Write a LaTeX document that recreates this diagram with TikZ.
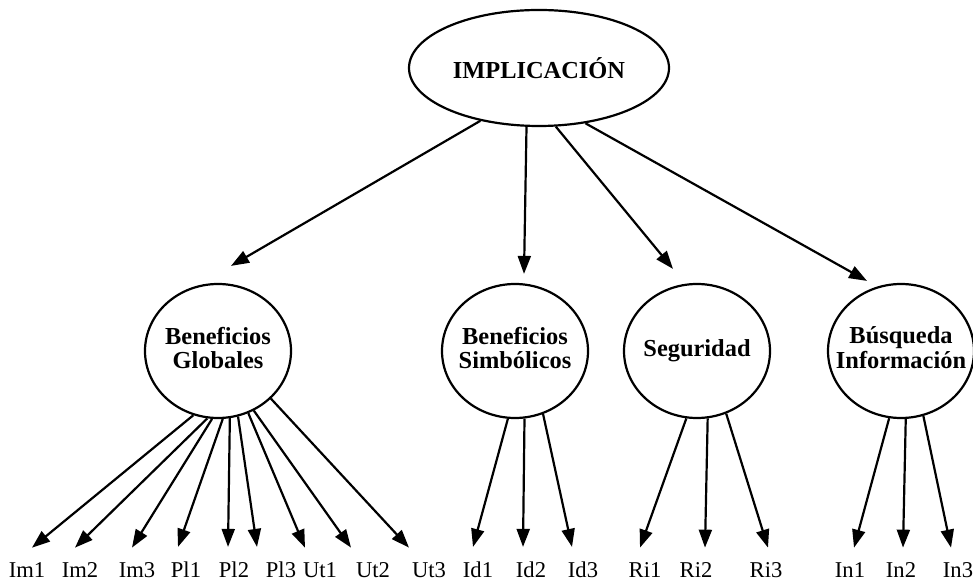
\documentclass[tikz,border=0pt]{standalone}
\usepackage{fontspec}
\setmainfont{Liberation Serif}
\usetikzlibrary{shapes.geometric, arrows.meta}

\newcommand{\facname}[1]{\makebox[0pt]{\begin{tabular}{@{}c@{}}#1\end{tabular}}}

\begin{document}
\begin{tikzpicture}
        [x=0.5pt, y=-0.5pt,
        factor/.style={draw, ellipse, line width=1.1pt, inner sep=0pt,
          minimum width=73pt, minimum height=67pt,
          font=\bfseries\fontsize{12.2}{11.5}\selectfont},
        root/.style={factor, minimum width=130pt, minimum height=58pt},
        item/.style={anchor=base, inner xsep=0pt, inner ysep=7pt,
          font=\fontsize{11.3}{13}\selectfont},
        arr/.style={-{Triangle[length=9pt,width=6.5pt]}, line width=1.1pt}]

    \useasboundingbox (0,0) rectangle (973,581);

    % factors
    \node[root]   (impl) at (539,68)  {IMPLICACIÓN};
    \node[factor] (bg)   at (218,351) {\facname{Beneficios\\Globales}};
    \node[factor] (bs)   at (515,351) {\facname{Beneficios\\Simbólicos}};
    \node[factor] (seg)  at (697,351) {\facname{Seguridad}};
    \node[factor] (bi)   at (901,351) {\facname{Búsqueda\\Información}};

    \draw[arr] (impl.-138) -- ([shift={(6.5pt,8.5pt)}]bg.north);
    \draw[arr] (impl.-102) -- ([shift={(4.5pt,4.5pt)}]bs.north);
    \draw[arr] (impl.-74)  -- ([shift={(-12pt,7pt)}]seg.north);
    \draw[arr] (impl.-50)  -- ([shift={(-17pt,1pt)}]bi.north);

    % items
    \foreach \src/\name/\x/\dx/\ang in {
        bg/Im1/27/2.5pt/-111, bg/Im2/80/-2.5pt/-99, bg/Im3/137/-2.5pt/-95,
        bg/Pl1/186/-4pt/-86, bg/Pl2/234/-3pt/-80, bg/Pl3/281/-12pt/-73,
        bg/Ut1/320/-7.5pt/-64, bg/Ut2/373/-11pt/-59, bg/Ut3/429/-10pt/-42,
        bs/Id1/478/-2.5pt/-96, bs/Id2/531/-4pt/-82, bs/Id3/583/-5.5pt/-66,
        seg/Ri1/645/-2.5pt/-99, seg/Ri2/696/4.5pt/-81, seg/Ri3/766/1pt/-65,
        bi/In1/850/2pt/-100, bi/In2/901/1pt/-86, bi/In3/958/-3.5pt/-71}
    {
      \node[item] (\name) at (\x,577) {\name};
      \draw[arr] (\src.\ang) -- ([xshift=\dx]\name.north);
    }
\end{tikzpicture}
\end{document}
